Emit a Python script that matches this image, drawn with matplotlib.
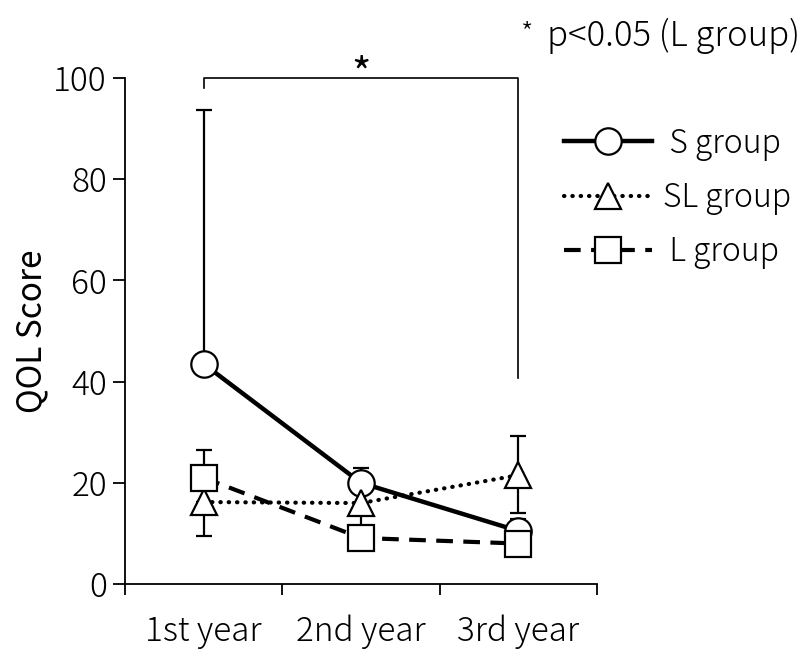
import numpy as np
import matplotlib
matplotlib.use("Agg")
import matplotlib.pyplot as plt

plt.rcParams['font.family'] = ['Noto Sans CJK JP', 'DejaVu Sans']
plt.rcParams['font.weight'] = 'light'

# Data
years = ['1st year', '2nd year', '3rd year']
s_mean = [43.5, 20.0, 10.5]
s_err_up = [50.2, 3.0, 2.3]
sl_mean = [16.2, 16.0, 21.5]
sl_err_lo = [6.7, 5.5, 7.5]
sl_err_up = [0.0, 0.0, 7.7]
l_mean = [21.0, 9.1, 8.0]
l_err_up = [5.5, 0.0, 0.0]
zeros = [0.0, 0.0, 0.0]
labels = ['\u2009S group', 'SL group', '\u2009L group']

# significance bracket (1st vs 3rd year, L group)
bracket_top = 100
bracket_left_end = 98
bracket_right_end = 40.7

x = np.arange(len(years)) + 0.5

fig = plt.figure(figsize=(8.12, 6.5), dpi=100)
ax = fig.add_axes([0.154, 0.1015, 0.581, 0.7785])

common = dict(color='black', mfc='white', mec='black', mew=1.6, ms=19,
              elinewidth=1.6, capsize=6, capthick=1.6)

eb_s = ax.errorbar(x, s_mean, yerr=[zeros, s_err_up], fmt='-o', lw=3.2,
                   zorder=3, **common)
eb_sl = ax.errorbar(x, sl_mean, yerr=[sl_err_lo, sl_err_up], fmt='^',
                    ls=(0, (0.1, 1.9)), dash_capstyle='round', lw=3.0,
                    zorder=4, **common)
eb_l = ax.errorbar(x, l_mean, yerr=[zeros, l_err_up], fmt='--s', lw=3,
                   zorder=5, dashes=(4, 2.5), **common)

ax.set_xlim(0, 3)
ax.set_ylim(0, 100)
ax.set_yticks(np.arange(0, 101, 20))
ax.set_xticks([0, 1, 2, 3])
ax.set_xticklabels([])
ax.set_xticks(x, minor=True)
ax.set_xticklabels(years, minor=True)
ax.tick_params(axis='x', which='minor', length=0, pad=22, labelsize=24)
ax.tick_params(axis='x', which='major', direction='out', length=8, width=1.3)
ax.tick_params(axis='y', direction='out', length=9, width=1.3, labelsize=24, pad=4)
for side in ['top', 'right']:
    ax.spines[side].set_visible(False)
for side in ['left', 'bottom']:
    ax.spines[side].set_linewidth(1.3)
ax.set_ylabel('QOL Score', fontsize=24, labelpad=3)

# bracket
ax.plot([x[0], x[0], x[2], x[2]],
        [bracket_left_end, bracket_top, bracket_top, bracket_right_end],
        color='black', lw=1.2, clip_on=False, zorder=2)
ax.annotate('*', xy=((x[0] + x[2]) / 2, bracket_top), xytext=(0, -6),
            textcoords='offset points', ha='center', va='baseline',
            fontsize=30, fontweight='normal', annotation_clip=False)

note = fig.text(0.985, 0.945, 'p<0.05 (L group)', ha='right', va='center',
                fontsize=25)
ax.annotate('*', xy=(0, 0.5), xycoords=note, xytext=(-10, 2),
            textcoords='offset points', ha='right', va='center', fontsize=20)

leg = ax.legend([eb_s[0], eb_sl[0], eb_l[0]], labels,
                loc='upper left', bbox_to_anchor=(0.93, 0.905), frameon=False,
                fontsize=23, handlelength=2.75, handletextpad=0.35,
                labelspacing=0.62, borderaxespad=0, borderpad=0)

fig.savefig('out.png', dpi=100)
